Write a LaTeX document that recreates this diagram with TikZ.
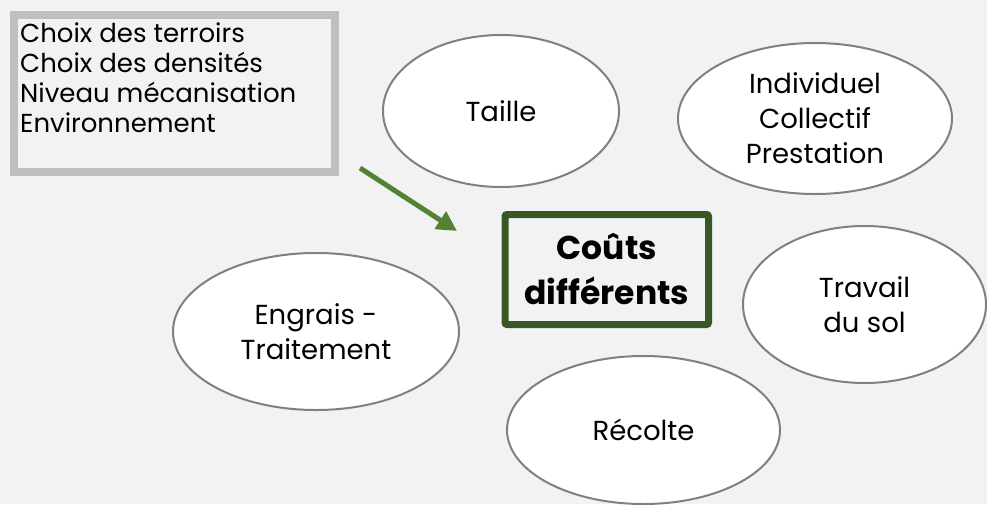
\documentclass[tikz,border=0pt]{standalone}
\usepackage{fontspec}
\setmainfont{Poppins}
\usetikzlibrary{arrows.meta,shapes.geometric}
\definecolor{bg}{HTML}{F2F2F2}
\definecolor{boxgray}{HTML}{BFBFBF}
\definecolor{ellgray}{HTML}{808080}
\definecolor{darkgreen}{HTML}{385723}
\definecolor{arrowgreen}{HTML}{548235}
\tikzset{
  bubble/.style={ellipse, draw=ellgray, line width=2pt, fill=white, inner sep=0pt,
    align=center, font=\fontsize{27.5}{35}\selectfont, text=black},
  factorbox/.style={draw=boxgray, line width=8pt, fill=bg, rectangle, inner sep=0pt},
  factortext/.style={align=left, font=\fontsize{26}{30}\selectfont, inner sep=0pt, text=black},
  centerbox/.style={draw=darkgreen, line width=7pt, rounded corners=2pt, rectangle,
    inner sep=0pt, align=center, font=\bfseries\fontsize{33}{45}\selectfont, text=black},
  bigarrow/.style={draw=arrowgreen, line width=5pt, -{Triangle[length=20pt,width=20pt]}}
}
\begin{document}
\begin{tikzpicture}[x=1pt,y=-1pt]
\useasboundingbox (0,0) rectangle (987,504);
\fill[bg] (0,0) rectangle (987,504);
% factor box
\node[factorbox, minimum width=321pt, minimum height=157pt, anchor=north west] (facteurs) at (10,11) {};
\node[factortext, anchor=base west] (liste) at (20,132) {Choix des terroirs\\Choix des densités\\Niveau mécanisation\\Environnement};
% ellipses
\node[bubble, minimum width=236pt, minimum height=152pt] (taille) at (501,111) {Taille};
\node[bubble, minimum width=274pt, minimum height=151pt] (indiv) at (815,118.5) {Individuel\\Collectif\\Prestation};
\node[bubble, minimum width=286pt, minimum height=157pt] (engrais) at (316,331.5) {Engrais -\\Traitement};
\node[bubble, minimum width=243pt, minimum height=157pt] (travail) at (864.5,304.5) {Travail\\du sol};
\node[bubble, minimum width=273pt, minimum height=148pt] (recolte) at (643.5,430) {Récolte};
% central box
\node[centerbox, minimum width=203.5pt, minimum height=110pt] (couts) at (606.75,269.5) {Coûts\\différents};
% arrow
\coordinate (arrowstart) at (360,168);
\draw[bigarrow] (arrowstart) -- (457,231);
\end{tikzpicture}
\end{document}
